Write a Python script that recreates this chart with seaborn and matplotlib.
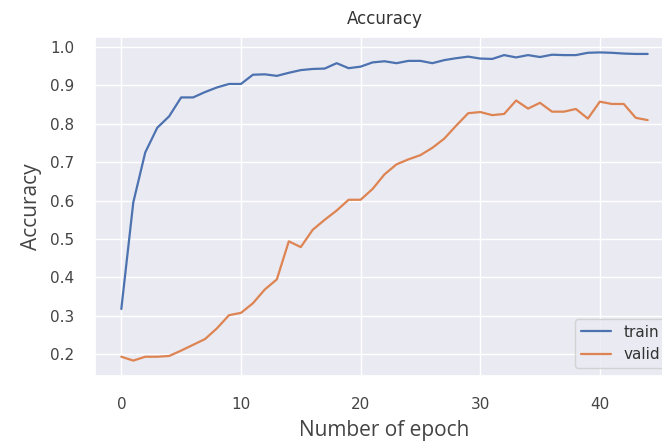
import pandas as pd
import matplotlib
matplotlib.use("Agg")
import matplotlib.pyplot as plt
import seaborn as sns

epochs = list(range(45))
train_acc = [0.318, 0.595, 0.725, 0.789, 0.819, 0.868, 0.868, 0.882, 0.894, 0.903,
             0.903, 0.927, 0.928, 0.924, 0.932, 0.939, 0.942, 0.943, 0.957, 0.944,
             0.948, 0.959, 0.962, 0.957, 0.963, 0.963, 0.957, 0.965, 0.970, 0.974,
             0.969, 0.968, 0.978, 0.972, 0.978, 0.973, 0.979, 0.978, 0.978, 0.984,
             0.985, 0.984, 0.982, 0.981, 0.981]
valid_acc = [0.194, 0.184, 0.194, 0.194, 0.196, 0.210, 0.225, 0.240, 0.268, 0.302,
             0.308, 0.333, 0.369, 0.395, 0.494, 0.479, 0.524, 0.550, 0.574, 0.602,
             0.602, 0.630, 0.668, 0.694, 0.707, 0.718, 0.737, 0.761, 0.795, 0.827,
             0.830, 0.822, 0.825, 0.860, 0.839, 0.854, 0.831, 0.831, 0.838, 0.813,
             0.857, 0.851, 0.851, 0.815, 0.809]

df = pd.DataFrame({
    "epoch": epochs * 2,
    "accuracy": train_acc + valid_acc,
    "set": ["train"] * len(epochs) + ["valid"] * len(epochs),
})

sns.set_theme(style="darkgrid")

fig = plt.figure(figsize=(6.62, 4.43), dpi=100)
ax = fig.add_axes([95 / 662, 67 / 443, 579 / 662, 339 / 443])
sns.lineplot(data=df, x="epoch", y="accuracy", hue="set", ax=ax, linewidth=1.6)

ax.set_title("Accuracy", fontsize=12, color="#333333", pad=9)
ax.set_xlabel("Number of epoch", fontsize=15, family="Open Sans", color="#444444", labelpad=6)
ax.set_ylabel("Accuracy", fontsize=15, family="Open Sans", color="#444444", labelpad=6)
ax.set_xticks([0, 10, 20, 30, 40])
ax.set_yticks([0.2, 0.3, 0.4, 0.5, 0.6, 0.7, 0.8, 0.9, 1.0])
ax.tick_params(axis="both", pad=9, labelsize=11, labelcolor="#444444")
leg = ax.legend(title=None, loc="lower right", fontsize=11)
for t in leg.get_texts():
    t.set_color("#333333")

fig.savefig("out.png", dpi=100)
